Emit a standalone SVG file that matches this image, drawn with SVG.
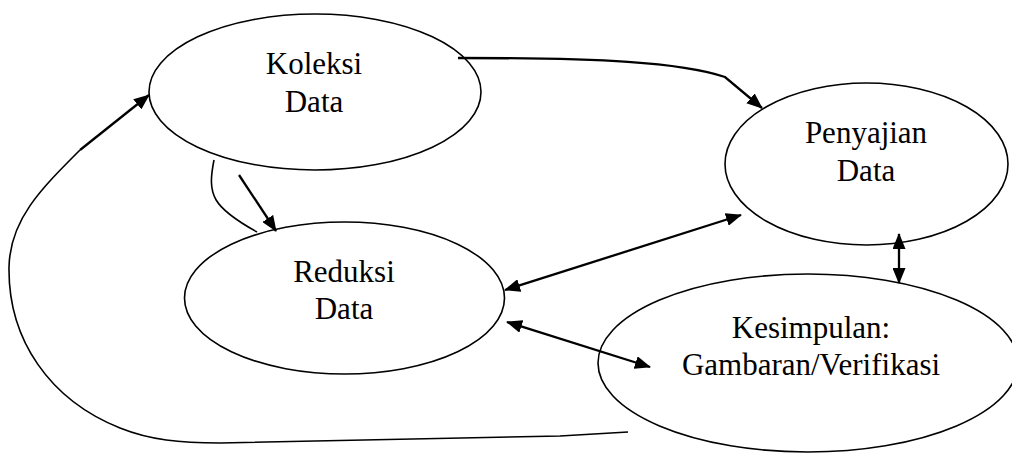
<svg xmlns="http://www.w3.org/2000/svg" width="1012" height="457" viewBox="0 0 1012 457">
<defs>
<style>
.node ellipse{fill:#fff;stroke:#000;stroke-width:1.6}
.node text{font-family:"Liberation Serif","Times New Roman",serif;font-size:31px;fill:#000;text-anchor:middle}
.conn path{fill:none;stroke:#000;stroke-width:2.3}
.conn path.thin{stroke-width:1.6}
</style>
<marker id="ah" viewBox="0 0 16 13" refX="15" refY="6.5" markerWidth="16" markerHeight="13" markerUnits="userSpaceOnUse" orient="auto-start-reverse">
<path d="M0,0 L16,6.5 L0,13 z" fill="#000"/>
</marker>
</defs>
<rect width="1012" height="457" fill="#fff"/>
<g id="node-koleksi" class="node">
<ellipse cx="315" cy="92" rx="166" ry="78"/>
<text x="314" y="74">Koleksi</text>
<text x="314" y="112">Data</text>
</g>
<g id="node-reduksi" class="node">
<ellipse cx="344.5" cy="298" rx="160" ry="76"/>
<text x="344" y="282">Reduksi</text>
<text x="344" y="319">Data</text>
</g>
<g id="node-penyajian" class="node">
<ellipse cx="866.5" cy="164" rx="141.5" ry="81"/>
<text x="866" y="143">Penyajian</text>
<text x="866" y="181">Data</text>
</g>
<g id="node-kesimpulan" class="node">
<ellipse cx="808" cy="363" rx="210" ry="89"/>
<text x="811" y="338">Kesimpulan:</text>
<text x="811" y="375">Gambaran/Verifikasi</text>
</g>
<g id="connectors" class="conn">
<path d="M458,58 C600,58 680,62 725,77 L762,108" marker-end="url(#ah)"/>
<path d="M239,175 L276,231" marker-end="url(#ah)"/>
<path class="thin" d="M214,160 C207,195 212,207 257,232"/>
<path d="M505,290 L741,215" marker-start="url(#ah)" marker-end="url(#ah)"/>
<path d="M507,322 L650,367" marker-start="url(#ah)" marker-end="url(#ah)"/>
<path d="M899,234 L899,283" marker-start="url(#ah)" marker-end="url(#ah)"/>
<path class="thin" d="M628,432 L560,436 L220,443 C180,443 150,440 120,428 C50,400 8,340 9,267 C10,220 40,190 80,150"/>
<path d="M80,150 L149,95" marker-end="url(#ah)"/>
</g>
</svg>
